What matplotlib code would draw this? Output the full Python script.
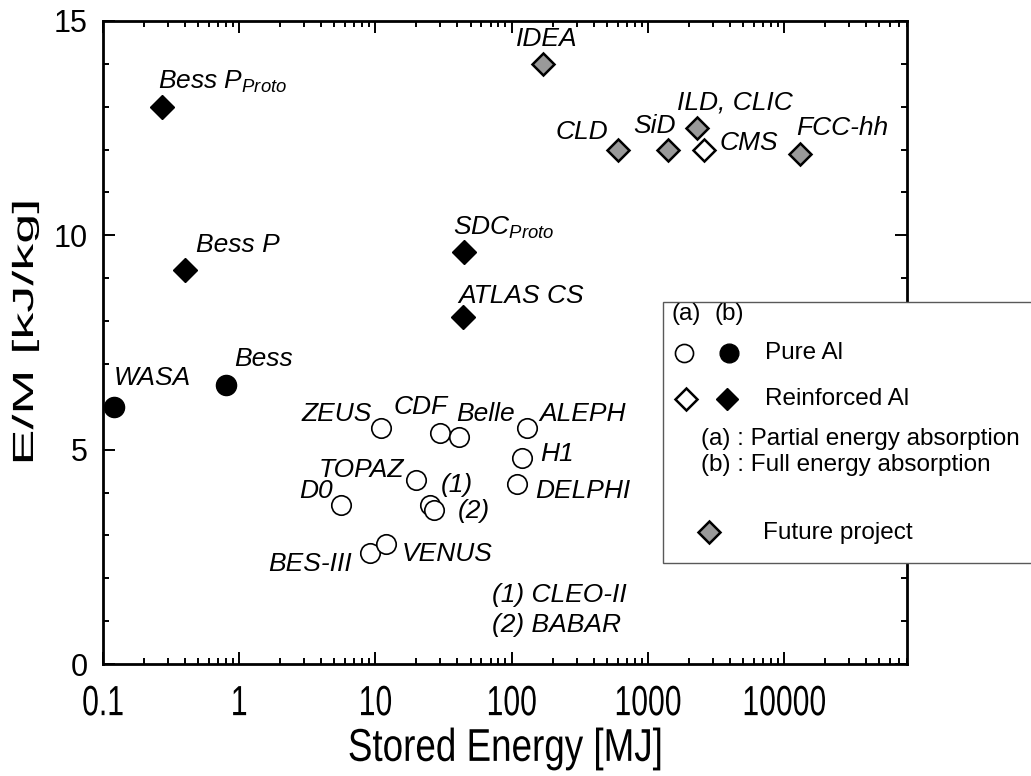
import matplotlib
matplotlib.use("Agg")
import matplotlib.pyplot as plt
from matplotlib.patheffects import AbstractPathEffect
from matplotlib.transforms import Affine2D
from matplotlib.patches import Rectangle
from matplotlib.ticker import LogLocator, NullFormatter, MultipleLocator

plt.rcParams["font.family"] = ["Liberation Sans", "DejaVu Sans"]
plt.rcParams["mathtext.fontset"] = "custom"
plt.rcParams["mathtext.it"] = "Liberation Sans:italic"
plt.rcParams["mathtext.rm"] = "Liberation Sans"

# pure Al, partial energy absorption (open circles)
pure_a_names = ["ZEUS", "CDF", "Belle", "ALEPH", "H1", "DELPHI", "TOPAZ",
                "(1)", "(2)", "D0", "BES-III", "VENUS"]
pure_a_energy = [11, 30, 41, 130, 120, 110, 20, 25, 27, 5.6, 9.2, 12]
pure_a_em = [5.5, 5.4, 5.3, 5.5, 4.8, 4.2, 4.3, 3.7, 3.6, 3.7, 2.6, 2.8]

# pure Al, full energy absorption (filled circles)
pure_b_names = ["WASA", "Bess"]
pure_b_energy = [0.12, 0.8]
pure_b_em = [6.0, 6.5]

# reinforced Al, full energy absorption (filled diamonds)
reinf_b_names = ["Bess $P_{Proto}$", "Bess P", "SDC$_{Proto}$", "ATLAS CS"]
reinf_b_energy = [0.27, 0.4, 45, 44]
reinf_b_em = [13.0, 9.2, 9.6, 8.1]

# reinforced Al, partial energy absorption (open diamonds)
reinf_a_names = ["CMS"]
reinf_a_energy = [2600]
reinf_a_em = [12.0]

# future projects (grey diamonds)
future_names = ["IDEA", "CLD", "SiD", "ILD, CLIC", "FCC-hh"]
future_energy = [170, 600, 1400, 2300, 13000]
future_em = [14.0, 12.0, 12.0, 12.5, 11.9]

x_ticks = [0.1, 1, 10, 100, 1000, 10000]
x_ticklabels = ["0.1", "1", "10", "100", "1000", "10000"]
y_ticks = [0, 5, 10, 15]

# label placement: alignment, x offset, baseline offset (pixels)
label_pos = {
    "WASA": ("left", 0, 22), "Bess": ("left", 8, 19),
    "Bess P": ("left", 11, 18), "Bess $P_{Proto}$": ("left", -4, 18),
    "SDC$_{Proto}$": ("left", -11, 18), "ATLAS CS": ("left", -5, 14),
    "IDEA": ("left", -27, 18), "CLD": ("right", -9, 11),
    "SiD": ("left", -34, 17), "ILD, CLIC": ("left", -20, 19),
    "CMS": ("left", 15, 0), "FCC-hh": ("left", -3, 19),
    "ZEUS": ("right", -9, 7), "CDF": ("left", -47, 19),
    "Belle": ("left", -3, 16), "ALEPH": ("left", 12, 7),
    "H1": ("left", 18, -3), "DELPHI": ("left", 18, -14),
    "TOPAZ": ("right", -12, 3), "(1)": ("left", 11, 13),
    "(2)": ("left", 24, -8), "D0": ("right", -8, 7),
    "BES-III": ("right", -19, -18), "VENUS": ("left", 16, -17),
}


class Stretch(AbstractPathEffect):
    """Scale the glyph outline about its own centre."""

    def __init__(self, sx=1.0, sy=1.0):
        super().__init__()
        self.sx, self.sy = sx, sy

    def draw_path(self, renderer, gc, tpath, affine, rgbFace=None):
        ext = tpath.get_extents()
        cx, cy = (ext.x0 + ext.x1) / 2, (ext.y0 + ext.y1) / 2
        t = Affine2D().translate(-cx, -cy).scale(self.sx, self.sy).translate(cx, cy) + affine
        renderer.draw_path(gc, tpath, t, rgbFace)


W, H = 1031, 776
fig = plt.figure(figsize=(W / 100, H / 100), dpi=100)
ax = fig.add_axes([103 / W, 1 - 664 / H, 804 / W, 643 / H])

grey = "#999999"
ax.plot(pure_a_energy, pure_a_em, "o", ms=14, mfc="white", mec="black", mew=1.2, ls="none")
ax.plot(pure_b_energy, pure_b_em, "o", ms=14.5, mfc="black", mec="black", ls="none")
ax.plot(reinf_b_energy, reinf_b_em, "D", ms=12.5, mfc="black", mec="black", mew=1, ls="none")
ax.plot(reinf_a_energy, reinf_a_em, "D", ms=11.5, mfc="white", mec="black", mew=1.8, ls="none")
ax.plot(future_energy, future_em, "D", ms=11.5, mfc=grey, mec="black", mew=1.8, ls="none")

label_size = 19


def label_points(names, xs, ys):
    for n, x, y in zip(names, xs, ys):
        ha, dx, dy = label_pos[n]
        ax.annotate(n, (x, y), xytext=(dx, dy), textcoords="offset pixels",
                    ha=ha, va="baseline", fontsize=label_size, fontstyle="italic")


label_points(pure_a_names, pure_a_energy, pure_a_em)
label_points(pure_b_names, pure_b_energy, pure_b_em)
label_points(reinf_b_names, reinf_b_energy, reinf_b_em)
label_points(reinf_a_names, reinf_a_energy, reinf_a_em)
label_points(future_names, future_energy, future_em)

ax.text(0.4835, 0.0969, "(1) CLEO-II", transform=ax.transAxes, fontsize=label_size,
        fontstyle="italic", va="baseline")
ax.text(0.4835, 0.0502, "(2) BABAR", transform=ax.transAxes, fontsize=label_size,
        fontstyle="italic", va="baseline")

# axes
ax.set_xscale("log")
ax.set_xlim(0.1, 8e4)
ax.set_ylim(0, 15)
ax.set_xticks(x_ticks)
ax.set_xticklabels(x_ticklabels)
ax.xaxis.set_minor_locator(LogLocator(base=10, subs=range(2, 10), numticks=20))
ax.xaxis.set_minor_formatter(NullFormatter())
ax.set_yticks(y_ticks)
ax.yaxis.set_minor_locator(MultipleLocator(1))

for sp in ax.spines.values():
    sp.set_linewidth(2.0)
ax.tick_params(which="both", direction="in", top=True, right=True, width=1.4)
ax.tick_params(which="major", length=8.5)
ax.tick_params(which="minor", length=4.5)
ax.tick_params(axis="y", labelsize=22, pad=10.8)
ax.tick_params(axis="x", labelsize=21.7, pad=18)
for lab in ax.get_xticklabels():
    lab.set_path_effects([Stretch(1.0, 1.4)])

ax.set_xlabel("Stored Energy [MJ]", fontsize=26.5)
ax.xaxis.label.set_va("center")
ax.xaxis.set_label_coords(0.5, (664 - 749) / 643)
ax.xaxis.label.set_path_effects([Stretch(1.0, 1.25)])

ax.set_ylabel("E/M [kJ/kg]", fontsize=21)
ax.yaxis.label.set_va("center")
ax.yaxis.set_label_coords((25 - 103) / 804, (664 - 332) / 643)
ax.yaxis.label.set_path_effects([Stretch(1.85, 1.0)])

# key box, drawn in figure pixel coordinates
ov = fig.add_axes([0, 0, 1, 1], zorder=5)
ov.set_xlim(0, W)
ov.set_ylim(H, 0)
ov.axis("off")
ov.add_patch(Rectangle((663, 302), 420, 261, fc="white", ec="0.35", lw=1))
fs = 17.5
ov.text(671.7, 314, "(a)", fontsize=fs, va="center")
ov.text(715, 314, "(b)", fontsize=fs, va="center")
ov.plot(684.3, 353.3, "o", ms=13, mfc="white", mec="black", mew=1.2)
ov.plot(729.3, 353.3, "o", ms=13.5, mfc="black", mec="black")
ov.text(765, 353, "Pure Al", fontsize=fs, va="center")
ov.plot(686, 399.3, "D", ms=11, mfc="white", mec="black", mew=1.8)
ov.plot(727.3, 399.3, "D", ms=11.5, mfc="black", mec="black")
ov.text(765, 399, "Reinforced Al", fontsize=fs, va="center")
ov.text(700.7, 439, "(a) : Partial energy absorption", fontsize=fs, va="center")
ov.text(700.7, 465.5, "(b) : Full energy absorption", fontsize=fs, va="center")
ov.plot(709.3, 532.3, "D", ms=11.5, mfc=grey, mec="black", mew=1.8)
ov.text(763.3, 533, "Future project", fontsize=fs, va="center")

fig.savefig("out.png", dpi=100)
